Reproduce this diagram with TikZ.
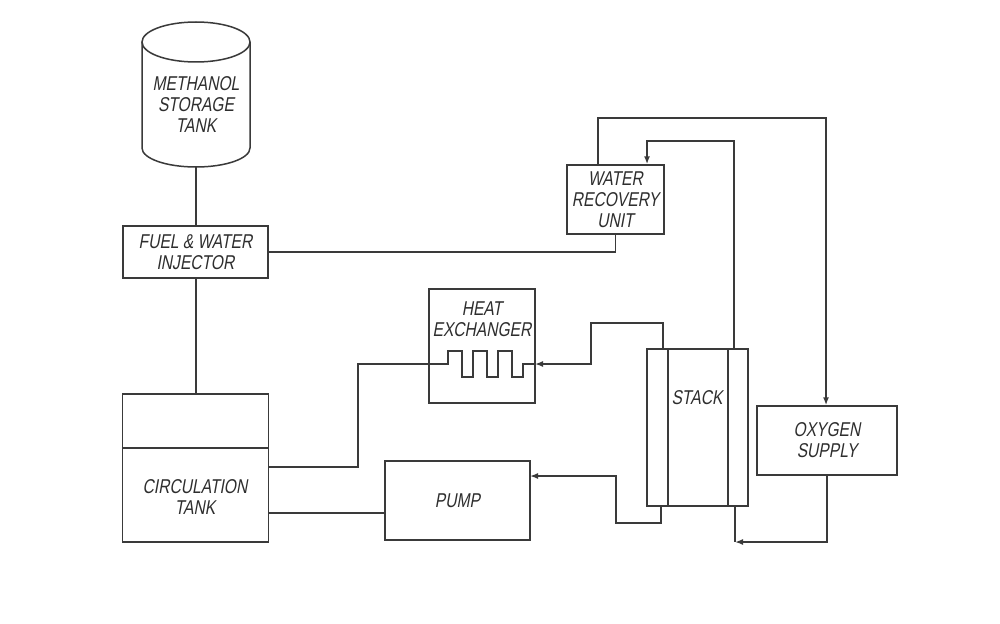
\documentclass[tikz,border=0pt]{standalone}
\usepackage{fontspec}
\newfontfamily\labfont{Liberation Sans}[FakeSlant=0.18,FakeStretch=0.78]
\usetikzlibrary{arrows.meta,calc}
\definecolor{inkc}{HTML}{3A3A3A}
\definecolor{txtc}{HTML}{2E2E2E}
\begin{document}
\begin{tikzpicture}[x=1pt,y=-1pt,
  ln/.style={draw=inkc, line width=1.5pt, line join=miter},
  box/.style={ln, rectangle, inner sep=0pt, font=\labfont\fontsize{20}{21}\selectfont, text=txtc, align=center},
  lbl/.style={inner sep=0pt, font=\labfont\fontsize{20}{21}\selectfont, text=txtc, align=center},
  arr/.style={ln, -{Latex[length=8pt,width=6pt]}}]
\useasboundingbox (0,0) rectangle (1000,623);
\fill[white] (0,0) rectangle (1000,623);

% methanol storage tank (cylinder)
\draw[ln] (196,42) ellipse [x radius=54, y radius=20];
\draw[ln] (142,42) -- (142,148) arc[start angle=180, end angle=360, x radius=54, y radius=-19] -- (250,42);
\node[lbl] (tank) at (196,105) {METHANOL\\STORAGE\\TANK};
\coordinate (tankb) at (196,167);

% boxes
\node[box, minimum width=145, minimum height=52] (inj) at (195.5,252) {FUEL \& WATER\\INJECTOR};
\node[box, minimum width=146, minimum height=148] (circ) at (195.5,468) {};
\coordinate (divy) at (0,448);
\draw[ln] (circ.west |- divy) -- (circ.east |- divy);
\node[lbl] (circt) at (195,497) {CIRCULATION\\TANK};
\node[box, minimum width=97, minimum height=69] (wru) at (615.5,199.5) {WATER\\RECOVERY\\UNIT};
\node[box, minimum width=106, minimum height=114] (hx) at (482,346) {};
\node[lbl] (hxt) at (482,319) {HEAT\\EXCHANGER};
\node[box, minimum width=101, minimum height=157] (stack) at (697.5,427.5) {};
\draw[ln] (668,349) -- (668,506);
\draw[ln] (728,349) -- (728,506);
\node[lbl] (stackt) at (697,398) {STACK};
\node[box, minimum width=140, minimum height=69] (oxy) at (827,440.5) {OXYGEN\\SUPPLY};
\node[box, minimum width=145, minimum height=79] (pump) at (457.5,500.5) {PUMP};

% connectors
\draw[ln] (tankb) -- (tankb |- inj.north);
\draw[ln] (inj.south -| tankb) -- (circ.north -| tankb);
\draw[ln] (inj.east) -| (wru.south);

\coordinate (wtop) at (598,165);
\coordinate (topr) at (826,118);
\draw[arr] (wtop) |- (topr) -- (topr |- oxy.north);

\coordinate (st1) at (734,349);
\coordinate (st1b) at (647,141);
\draw[arr] (st1) |- (st1b) -- (st1b |- wru.north);

\coordinate (st2) at (663,349);
\coordinate (st2b) at (591,323);
\coordinate (hxin) at (535,364);
\draw[arr] (st2) |- (st2b) |- (hxin);

% heat exchanger coil and line to circulation tank
\coordinate (ctr1) at (268,467);
\draw[ln] (ctr1) -- (358,467) -- (358,364) -- (448,364) -- (448,351) -- (462,351) -- (462,377)
  -- (473,377) -- (473,351) -- (487,351) -- (487,377) -- (498,377) -- (498,351) -- (512,351)
  -- (512,377) -- (523,377) -- (523,364) -- (hxin);

\coordinate (ctr2) at (268,513);
\draw[ln] (ctr2) -- (ctr2 -| pump.west);

\coordinate (sb1) at (661,506);
\coordinate (sb1b) at (616,523);
\coordinate (pin) at (530,476);
\draw[arr] (sb1) |- (sb1b) |- (pin);

\coordinate (sb2) at (735,506);
\coordinate (sb2b) at (735,542);
\draw[ln] (sb2) -- (sb2b);
\draw[arr] (oxy.south) |- (sb2b);
\end{tikzpicture}
\end{document}
